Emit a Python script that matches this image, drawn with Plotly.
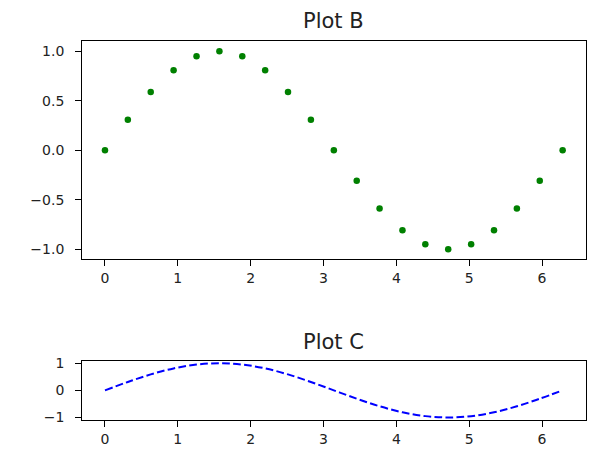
import plotly.graph_objects as go

# Data
x_vals = [0.0, 0.314, 0.628, 0.942, 1.257, 1.571, 1.885, 2.199, 2.513, 2.827, 3.142,
          3.456, 3.770, 4.084, 4.398, 4.712, 5.027, 5.341, 5.655, 5.969, 6.283]
y_b = [0.0, 0.309, 0.588, 0.809, 0.951, 1.0, 0.951, 0.809, 0.588, 0.309, 0.0,
       -0.309, -0.588, -0.809, -0.951, -1.0, -0.951, -0.809, -0.588, -0.309, 0.0]
y_c = [0.0, 0.309, 0.588, 0.809, 0.951, 1.0, 0.951, 0.809, 0.588, 0.309, 0.0,
       -0.309, -0.588, -0.809, -0.951, -1.0, -0.951, -0.809, -0.588, -0.309, 0.0]
x_ticks = [0, 1, 2, 3, 4, 5, 6]
yb_ticks = [-1.0, -0.5, 0.0, 0.5, 1.0]
yb_labels = ["\u22121.0", "\u22120.5", "0.0", "0.5", "1.0"]
yc_ticks = [-1, 0, 1]
yc_labels = ["\u22121", "0", "1"]
titles = ["Plot B", "Plot C"]

W, H = 592, 455
fig = go.Figure()

fig.add_trace(go.Scatter(x=x_vals, y=y_b, mode="markers",
                         marker=dict(color="#008000", size=6.5),
                         xaxis="x", yaxis="y", showlegend=False, hoverinfo="skip"))
fig.add_trace(go.Scatter(x=x_vals, y=y_c, mode="lines",
                         line=dict(color="#0000ff", width=2, dash="7.7px,3.3px", shape="spline"),
                         xaxis="x2", yaxis="y2", showlegend=False, hoverinfo="skip"))

xdom = [82.1 / W, 585.5 / W]
ydom_b = [1 - 259.8 / H, 1 - 37.3 / H]
ydom_c = [1 - 424.5 / H, 1 - 363.5 / H]

font = dict(family="DejaVu Sans", size=14, color="#222222")
common = dict(showline=True, linecolor="black", linewidth=1, mirror=True,
              ticks="outside", ticklen=6, tickwidth=1, tickcolor="black",
              showgrid=False, zeroline=False, tickfont=font)
ycommon = dict(common, ticklabelstandoff=8)

title_font = dict(family="DejaVu Sans", size=21, color="#222222")
fig.update_layout(
    width=W, height=H, margin=dict(l=0, r=0, t=0, b=0),
    paper_bgcolor="white", plot_bgcolor="white",
    xaxis=dict(domain=xdom, range=[-0.314, 6.597], tickvals=x_ticks, anchor="y", **common),
    yaxis=dict(domain=ydom_b, range=[-1.1, 1.1], tickvals=yb_ticks, ticktext=yb_labels, anchor="x", **ycommon),
    xaxis2=dict(domain=xdom, range=[-0.314, 6.597], tickvals=x_ticks, anchor="y2", **common),
    yaxis2=dict(domain=ydom_c, range=[-1.1, 1.1], tickvals=yc_ticks, ticktext=yc_labels, anchor="x2", **ycommon),
    annotations=[
        dict(text=titles[0], x=(xdom[0] + xdom[1]) / 2, y=ydom_b[1], xref="paper", yref="paper",
             xanchor="center", yanchor="bottom", yshift=6, showarrow=False, font=title_font),
        dict(text=titles[1], x=(xdom[0] + xdom[1]) / 2, y=ydom_c[1], xref="paper", yref="paper",
             xanchor="center", yanchor="bottom", yshift=5, showarrow=False, font=title_font),
    ],
)

fig.write_html("out.html", config={"displayModeBar": False},
               post_script="document.body.style.margin='0';")
